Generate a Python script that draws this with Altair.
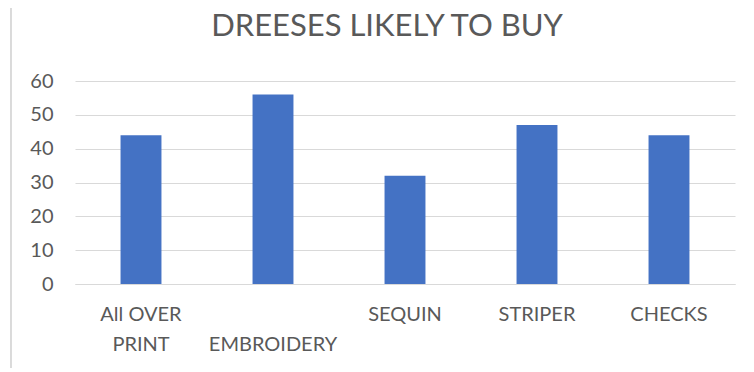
import altair as alt
import pandas as pd

categories = ["All OVER PRINT", "EMBROIDERY", "SEQUIN", "STRIPER", "CHECKS"]
values = [44, 56, 32, 47, 44]
y_ticks = [0, 10, 20, 30, 40, 50, 60]
title_text = "DREESES LIKELY TO BUY"

df = pd.DataFrame({"category": categories, "value": values})

TEXT = "#595959"
GRID = "#D9D9D9"
FONT = "Lato"

label_expr = (
    "datum.value == 'All OVER PRINT' ? ['All OVER', 'PRINT'] : "
    "datum.value == 'EMBROIDERY' ? [' ', 'EMBROIDERY'] : datum.value"
)

bars = alt.Chart(df).mark_bar(color="#4472C4").encode(
    x=alt.X(
        "category:N",
        sort=categories,
        title=None,
        scale=alt.Scale(paddingInner=0.69, paddingOuter=0.345),
        axis=alt.Axis(
            labelExpr=label_expr,
            labelAngle=0,
            labelFont=FONT,
            labelFontSize=20,
            labelColor=TEXT,
            labelLineHeight=30,
            labelBaseline="top",
            labelPadding=20,
            ticks=False,
            domainColor=GRID,
            domainWidth=1,
            grid=False,
        ),
    ),
    y=alt.Y(
        "value:Q",
        title=None,
        scale=alt.Scale(domain=[0, 60], nice=False),
        axis=alt.Axis(
            values=y_ticks,
            labelFont=FONT,
            labelFontSize=20,
            labelColor=TEXT,
            labelPadding=22,
            ticks=False,
            domain=False,
            gridColor=GRID,
            gridWidth=1,
        ),
    ),
)

frame = alt.Chart(df).mark_rule(color=GRID, strokeWidth=1).encode(
    x=alt.value(-64), y=alt.value(-90), y2=alt.value(300)
)

chart = (
    alt.layer(frame, bars)
    .properties(
        width=660,
        height=203,
        autosize=alt.AutoSizeParams(type="none"),
        padding={"left": 67, "top": 73, "right": 10, "bottom": 84},
        title=alt.TitleParams(
            text=title_text,
            font=FONT,
            fontSize=31,
            fontWeight="normal",
            color=TEXT,
            anchor="middle",
            dx=-18,
            offset=-52,
        ),
    )
    .configure_view(stroke=None)
)

chart.save("out.html", embed_options={"renderer": "svg", "actions": False})
